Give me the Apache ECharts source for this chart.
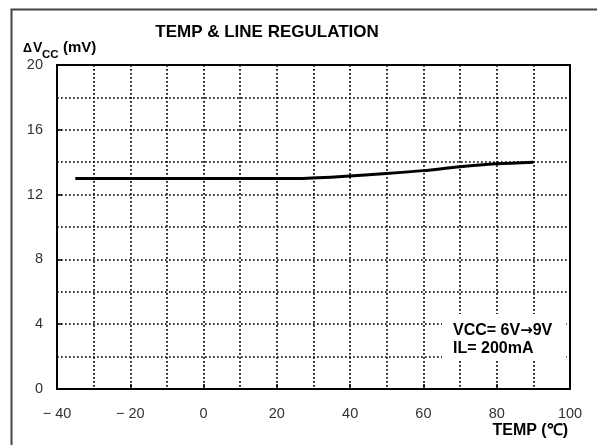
<!DOCTYPE html>
<html>
<head>
<meta charset="utf-8">
<script src="https://cdn.jsdelivr.net/npm/echarts@6/dist/echarts.min.js"></script>
<style>
html,body{margin:0;padding:0;background:#fff;}
#c{width:597px;height:445px;}
</style>
</head>
<body>
<div id="c"></div>
<script>
var temps = [-35, -20, 0, 20, 25, 40, 50, 60, 70, 80, 90];
var deltaVcc = [13, 13, 13, 13, 13, 13.15, 13.3, 13.48, 13.72, 13.9, 14.0];
var xTicks = [-40, -20, 0, 20, 40, 60, 80, 100];
var yTicks = [0, 4, 8, 12, 16, 20];
var titleText = 'TEMP & LINE REGULATION';
var noteLine1 = ['VCC= 6V', '\u2192', '9V'];
var noteLine2 = 'IL= 200mA';

var FONT = '"Liberation Sans", Arial, sans-serif';
var dotted = {color: '#000', width: 1.7, type: [1.7, 2.3]};

var chart = echarts.init(document.getElementById('c'), null, {renderer: 'canvas'});
chart.setOption({
  animation: false,
  backgroundColor: '#fff',
  grid: {left: 57, right: 27, top: 65, bottom: 56, show: true, borderColor: '#000', borderWidth: 2, backgroundColor: 'transparent'},
  xAxis: {
    type: 'value', min: xTicks[0], max: xTicks[xTicks.length - 1], interval: 20,
    axisLine: {show: true, onZero: false, lineStyle: {color: '#000', width: 2}},
    axisTick: {show: true, inside: true, length: 5, lineStyle: {color: '#000', width: 1.5}},
    axisLabel: {
      margin: 17, color: '#333', fontFamily: FONT, fontSize: 14.5,
      formatter: function (v) { return v < 0 ? '\u2212 ' + Math.abs(v) : String(v); }
    },
    splitLine: {show: true, lineStyle: dotted},
    minorTick: {show: false, splitNumber: 2},
    minorSplitLine: {show: true, lineStyle: dotted}
  },
  yAxis: {
    type: 'value', min: yTicks[0], max: yTicks[yTicks.length - 1], interval: 4,
    axisLine: {show: true, onZero: false, lineStyle: {color: '#000', width: 2}},
    axisTick: {show: true, inside: true, length: 5, lineStyle: {color: '#000', width: 1.5}},
    axisLabel: {margin: 14, color: '#333', fontFamily: FONT, fontSize: 14.5},
    splitLine: {show: true, lineStyle: dotted},
    minorTick: {show: false, splitNumber: 2},
    minorSplitLine: {show: true, lineStyle: dotted}
  },
  series: [{
    type: 'line', data: temps.map(function (t, i) { return [t, deltaVcc[i]]; }),
    showSymbol: false, smooth: 0.3, z: 5,
    lineStyle: {color: '#000', width: 3}
  }],
  graphic: [
    {type: 'rect', left: 9, top: 7, shape: {width: 620, height: 460},
     style: {fill: 'none', stroke: '#444', lineWidth: 2}, silent: true, z: 0},
    {type: 'text', x: 267, y: 24, z: 11,
     style: {text: titleText, font: 'bold 17px ' + FONT, fill: '#000', align: 'center'}},
    {type: 'rect', left: 442, top: 314, shape: {width: 124, height: 47},
     style: {fill: '#fff'}, z: 10},
    {type: 'text', left: 453, top: 323, z: 11,
     style: {
       text: '{a|' + noteLine1[0] + '}{r|' + noteLine1[1] + '}{a|' + noteLine1[2] + '}',
       rich: {
         a: {fontFamily: FONT, fontSize: 16, fontWeight: 'bold', fill: '#000'},
         r: {fontFamily: '"DejaVu Sans"', fontSize: 15, fontWeight: 'bold', fill: '#000'}
       }
     }},
    {type: 'text', left: 453, top: 341, z: 11,
     style: {text: noteLine2, font: 'bold 16px ' + FONT, fill: '#000'}},
    {type: 'text', left: 23, top: 42, z: 11,
     style: {text: '\u0394', font: 'bold 12.5px ' + FONT, fill: '#000'}},
    {type: 'text', left: 33, top: 41, z: 11,
     style: {text: 'V', font: 'bold 14px ' + FONT, fill: '#000'}},
    {type: 'text', left: 42, top: 49, z: 11,
     style: {text: 'CC', font: 'bold 11.5px ' + FONT, fill: '#000'}},
    {type: 'text', left: 63, top: 40, z: 11,
     style: {text: '(mV)', font: 'bold 15px ' + FONT, fill: '#000'}},
    {type: 'text', right: 29, top: 423, z: 11,
     style: {text: 'TEMP (\u2103)', font: 'bold 16px ' + FONT, fill: '#000'}}
  ]
});
</script>
</body>
</html>
